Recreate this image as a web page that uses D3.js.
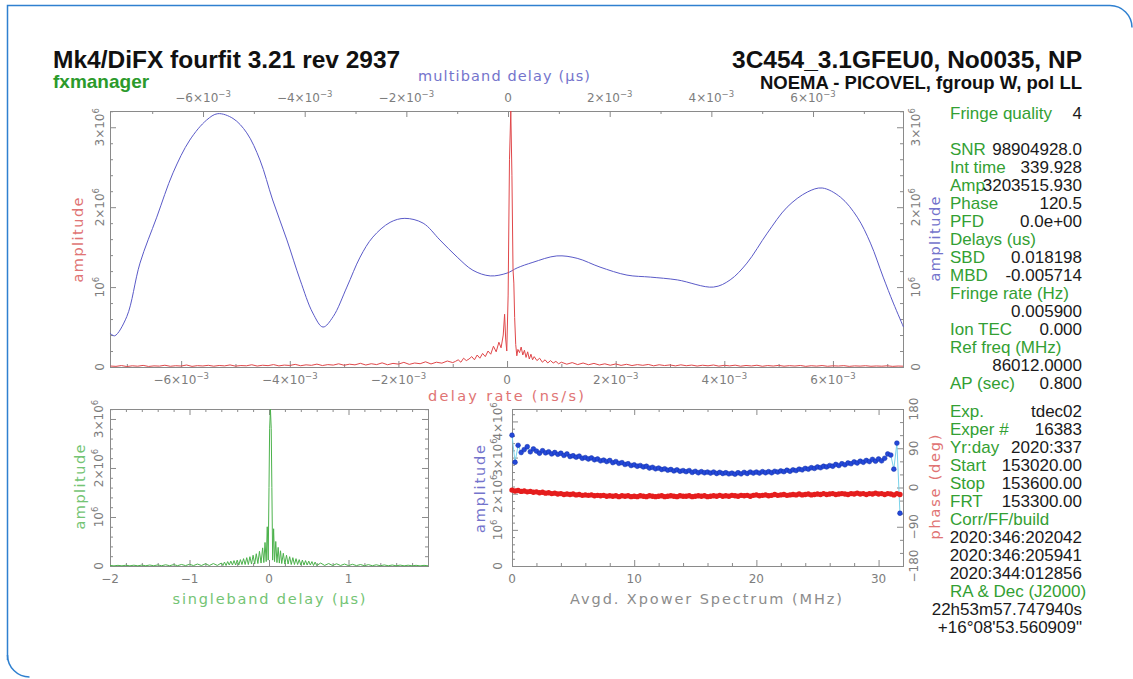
<!DOCTYPE html>
<html>
<head>
<meta charset="utf-8">
<script src="https://cdn.jsdelivr.net/npm/d3@7"></script>
<style>
  html, body { margin: 0; padding: 0; background: #fff; }
  svg { display: block; }
</style>
</head>
<body>
<svg id="chart" width="1133" height="679"></svg>
<script>
// ---------------------------------------------------------------------------
// Fourfit fringe plot: 3C454, NOEMA - PICOVEL
// ---------------------------------------------------------------------------
const AMP = 1e6;       // amplitude unit
const RATE_U = 1e-3;   // delay-rate unit (ns/s)
const MBD_U = 1e-3;    // multiband-delay unit (us)

// Multiband delay search function (delay in 1e-3 us, amplitude in 1e6)
const mbdDelay = [-7.83, -7.74, -7.50, -7.24, -6.91, -6.59, -6.26, -5.93, -5.71, -5.41,
  -5.14, -4.88, -4.63, -4.35, -4.09, -3.84, -3.64, -3.44, -3.17, -2.91,
  -2.66, -2.32, -2.03, -1.67, -1.34, -1.00, -0.69, -0.35, -0.02, 0.18,
  0.49, 0.96, 1.36, 1.81, 2.34, 2.80, 3.33, 4.04, 4.37, 4.70,
  5.10, 5.49, 5.89, 6.18, 6.54, 6.87, 7.13, 7.38, 7.58, 7.78];
const mbdAmp = [0.425, 0.39, 0.63, 1.30, 1.875, 2.43, 2.84, 3.09, 3.17, 3.11,
  2.93, 2.59, 2.09, 1.59, 1.09, 0.675, 0.50, 0.63, 1.00, 1.375,
  1.625, 1.81, 1.86, 1.80, 1.59, 1.375, 1.21, 1.14, 1.175, 1.24,
  1.31, 1.39, 1.36, 1.25, 1.15, 1.125, 1.09, 1.00, 1.09, 1.30,
  1.675, 2.00, 2.19, 2.24, 2.125, 1.875, 1.55, 1.125, 0.80, 0.50];

// Delay-rate function: [rate in 1e-3 ns/s, amplitude in 1e6]
const rateFn = [
  [-7.3,0.012],[-7.2,0.008],[-7.1,0.018],[-7.0,0.006],[-6.9,0.015],[-6.8,0.010],[-6.7,0.020],[-6.6,0.007],
  [-6.5,0.014],[-6.4,0.011],[-6.3,0.022],[-6.2,0.009],[-6.1,0.016],[-6.0,0.012],[-5.9,0.025],[-5.8,0.008],
  [-5.7,0.017],[-5.6,0.013],[-5.5,0.021],[-5.4,0.010],[-5.3,0.019],[-5.2,0.014],[-5.1,0.026],[-5.0,0.011],
  [-4.9,0.018],[-4.8,0.015],[-4.7,0.028],[-4.6,0.012],[-4.5,0.022],[-4.4,0.017],[-4.3,0.030],[-4.2,0.014],
  [-4.1,0.024],[-4.0,0.019],[-3.9,0.033],[-3.8,0.016],[-3.7,0.027],[-3.6,0.021],[-3.5,0.036],[-3.4,0.018],
  [-3.3,0.030],[-3.2,0.024],[-3.1,0.040],[-3.0,0.022],[-2.9,0.035],[-2.8,0.027],[-2.7,0.046],[-2.6,0.025],
  [-2.5,0.041],[-2.4,0.030],[-2.3,0.052],[-2.2,0.028],[-2.1,0.045],[-2.0,0.036],[-1.9,0.058],[-1.8,0.033],
  [-1.7,0.050],[-1.6,0.041],[-1.5,0.065],[-1.4,0.038],[-1.3,0.060],[-1.2,0.048],[-1.1,0.075],[-1.0,0.055],
  [-0.95,0.07],[-0.9,0.09],[-0.85,0.06],[-0.8,0.11],[-0.75,0.08],[-0.7,0.10],[-0.65,0.13],[-0.6,0.09],
  [-0.55,0.15],[-0.5,0.11],[-0.45,0.17],[-0.4,0.13],[-0.35,0.20],[-0.3,0.16],[-0.25,0.26],[-0.2,0.19],
  [-0.15,0.31],[-0.11,0.24],[-0.07,0.40],[-0.045,0.66],[-0.025,0.35],[-0.005,0.20],[0.02,0.9],[0.045,2.6],
  [0.069,3.2035],[0.09,2.4],[0.11,1.22],[0.125,1.05],[0.14,0.62],[0.16,0.28],[0.18,0.14],[0.2,0.22],
  [0.23,0.18],[0.26,0.25],[0.29,0.15],[0.32,0.21],[0.35,0.12],[0.38,0.19],[0.41,0.10],[0.44,0.16],
  [0.47,0.09],[0.5,0.13],[0.55,0.08],[0.6,0.11],[0.65,0.06],[0.7,0.09],[0.75,0.05],[0.8,0.08],
  [0.85,0.05],[0.9,0.07],[0.95,0.04],
  [1.0,0.06],[1.1,0.035],[1.2,0.055],[1.3,0.03],[1.4,0.05],[1.5,0.028],[1.6,0.045],[1.7,0.025],
  [1.8,0.04],[1.9,0.022],[2.0,0.038],[2.1,0.02],[2.2,0.034],[2.3,0.018],[2.4,0.03],[2.5,0.021],
  [2.6,0.032],[2.7,0.015],[2.8,0.028],[2.9,0.018],[3.0,0.026],[3.1,0.014],[3.2,0.027],[3.3,0.016],
  [3.4,0.024],[3.5,0.012],[3.6,0.022],[3.7,0.015],[3.8,0.025],[3.9,0.011],[4.0,0.021],[4.1,0.014],
  [4.2,0.023],[4.3,0.010],[4.4,0.019],[4.5,0.013],[4.6,0.022],[4.7,0.009],[4.8,0.018],[4.9,0.012],
  [5.0,0.020],[5.1,0.010],[5.2,0.017],[5.3,0.012],[5.4,0.019],[5.5,0.008],[5.6,0.016],[5.7,0.011],
  [5.8,0.018],[5.9,0.009],[6.0,0.015],[6.1,0.012],[6.2,0.017],[6.3,0.008],[6.4,0.014],[6.5,0.011],
  [6.6,0.016],[6.7,0.009],[6.8,0.013],[6.9,0.010],[7.0,0.015],[7.1,0.008],[7.2,0.012],[7.29,0.010]
];

// Singleband delay function: [delay in us, amplitude in 1e6]
const sbdFn = [
  [-2.0,0.012],[-1.95,0.003],[-1.9,0.013],[-1.85,0.004],[-1.8,0.015],[-1.75,0.004],[-1.7,0.016],[-1.65,0.004],
  [-1.6,0.018],[-1.55,0.005],[-1.5,0.02],[-1.45,0.005],[-1.4,0.022],[-1.35,0.006],[-1.3,0.025],[-1.25,0.006],
  [-1.2,0.028],[-1.15,0.007],[-1.1,0.031],[-1.05,0.008],[-1.0,0.035],[-0.95,0.008],[-0.9,0.04],[-0.85,0.01],
  [-0.8,0.045],[-0.75,0.01],[-0.7,0.05],[-0.65,0.012],[-0.6,0.06],
  [-0.58,0.01],[-0.56,0.08],[-0.54,0.01],[-0.52,0.09],[-0.50,0.02],[-0.48,0.10],[-0.46,0.02],[-0.44,0.11],
  [-0.42,0.02],[-0.40,0.12],[-0.38,0.02],[-0.36,0.13],[-0.34,0.03],[-0.32,0.15],[-0.30,0.03],[-0.28,0.17],
  [-0.26,0.03],[-0.24,0.19],[-0.22,0.04],[-0.20,0.22],[-0.18,0.04],[-0.16,0.25],[-0.14,0.05],[-0.12,0.30],
  [-0.10,0.06],[-0.08,0.37],[-0.065,0.07],[-0.05,0.48],[-0.035,0.09],[-0.022,0.80],[-0.01,0.12],
  [0.0,1.6],[0.008,2.8],[0.018,3.2035],[0.028,2.8],[0.036,1.6],[0.046,0.12],
  [0.058,0.76],[0.07,0.09],[0.085,0.50],[0.10,0.07],[0.115,0.38],[0.13,0.06],[0.145,0.31],[0.16,0.05],
  [0.18,0.26],[0.20,0.04],[0.22,0.22],[0.24,0.04],[0.26,0.19],[0.28,0.03],[0.30,0.17],[0.32,0.03],
  [0.34,0.15],[0.36,0.03],[0.38,0.13],[0.40,0.02],[0.42,0.12],[0.44,0.02],[0.46,0.11],[0.48,0.02],
  [0.50,0.10],[0.52,0.02],[0.54,0.09],[0.56,0.01],[0.58,0.08],[0.60,0.01],
  [0.65,0.06],[0.7,0.012],[0.75,0.05],[0.8,0.01],[0.85,0.045],[0.9,0.01],[0.95,0.04],[1.0,0.008],
  [1.05,0.035],[1.1,0.008],[1.15,0.03],[1.2,0.006],[1.25,0.028],[1.3,0.006],[1.35,0.025],[1.4,0.005],
  [1.45,0.022],[1.5,0.005],[1.55,0.02],[1.6,0.004],[1.65,0.018],[1.7,0.004],[1.75,0.016],[1.8,0.004],
  [1.85,0.014],[1.9,0.003],[1.95,0.013],[2.0,0.005]
];

// Averaged cross-power spectrum, 0.25 MHz bins starting at 0 MHz
const specStep = 0.25;
const specAmp = [3.62, 2.87, 3.34, 3.14, 3.22, 3.30, 3.16, 3.24, 3.18, 3.12,
  3.19, 3.13, 3.16, 3.10, 3.14, 3.09, 3.12, 3.06, 3.10, 3.03,
  3.05, 3.01, 3.04, 2.98, 3.00, 2.96, 2.99, 2.94, 2.96, 2.91,
  2.93, 2.89, 2.92, 2.86, 2.89, 2.84, 2.86, 2.81, 2.83, 2.78,
  2.80, 2.76, 2.78, 2.74, 2.76, 2.71, 2.73, 2.69, 2.71, 2.67,
  2.69, 2.65, 2.67, 2.63, 2.66, 2.62, 2.64, 2.61, 2.64, 2.59,
  2.62, 2.58, 2.61, 2.58, 2.60, 2.57, 2.60, 2.56, 2.59, 2.56,
  2.58, 2.55, 2.57, 2.54, 2.58, 2.55, 2.59, 2.56, 2.60, 2.57,
  2.60, 2.57, 2.61, 2.58, 2.61, 2.58, 2.62, 2.60, 2.63, 2.61,
  2.65, 2.62, 2.66, 2.64, 2.68, 2.66, 2.70, 2.68, 2.72, 2.70,
  2.74, 2.72, 2.76, 2.74, 2.78, 2.76, 2.81, 2.78, 2.83, 2.80,
  2.85, 2.83, 2.88, 2.85, 2.90, 2.87, 2.92, 2.89, 2.95, 2.90,
  2.96, 2.91, 2.98, 3.10, 3.07, 2.68, 3.40, 1.46];
const specPhase = [-6, -8, -7, -9, -8, -10, -9, -11, -10, -12,
  -11, -13, -12, -14, -13, -15, -14, -16, -15, -16,
  -15, -17, -16, -18, -17, -18, -17, -19, -18, -19,
  -18, -20, -19, -20, -19, -21, -19, -20, -19, -21,
  -20, -21, -19, -20, -21, -19, -20, -21, -20, -19,
  -21, -20, -19, -20, -21, -19, -20, -20, -19, -21,
  -20, -19, -20, -19, -21, -20, -19, -20, -18, -20,
  -19, -20, -18, -19, -20, -18, -19, -18, -20, -18,
  -17, -19, -18, -17, -19, -18, -16, -18, -17, -16,
  -18, -17, -16, -17, -15, -17, -16, -15, -17, -16,
  -15, -16, -14, -16, -15, -14, -16, -15, -14, -15,
  -16, -14, -15, -13, -15, -14, -16, -14, -15, -13,
  -15, -14, -16, -14, -15, -17, -14, -16];

// Axis tick values
const rateTicks = [-6, -4, -2, 0, 2, 4, 6];       // x 1e-3 ns/s
const mbdTicks = [-6, -4, -2, 0, 2, 4, 6];        // x 1e-3 us
const ampTicks = [0, 1, 2, 3];                    // x 1e6
const sbdTicks = [-2, -1, 0, 1];                  // us
const freqTicks = [0, 10, 20, 30];                // MHz
const specAmpTicks = [0, 1, 2, 3, 4];             // x 1e6
const phaseTicks = [-180, -90, 0, 90, 180];       // deg

// Header and fit summary text
const titleLeft = "Mk4/DiFX fourfit 3.21 rev 2937";
const subLeft = "fxmanager";
const titleRight = "3C454_3.1GFEU0, No0035, NP";
const subRight = "NOEMA - PICOVEL, fgroup W, pol LL";

const infoHead = [["Fringe quality", "4"]];
const infoFit = [["SNR", "98904928.0"], ["Int time", "339.928"], ["Amp", "3203515.930"],
  ["Phase", "120.5"], ["PFD", "0.0e+00"], ["Delays (us)", ""], ["SBD", "0.018198"],
  ["MBD", "-0.005714"], ["Fringe rate (Hz)", ""], ["", "0.005900"], ["Ion TEC", "0.000"],
  ["Ref freq (MHz)", ""], ["", "86012.0000"], ["AP (sec)", "0.800"]];
const infoRun = [["Exp.", "tdec02"], ["Exper #", "16383"], ["Yr:day", "2020:337"],
  ["Start", "153020.00"], ["Stop", "153600.00"], ["FRT", "153300.00"], ["Corr/FF/build", ""],
  ["", "2020:346:202042"], ["", "2020:346:205941"], ["", "2020:344:012856"],
  ["RA & Dec (J2000)", ""], ["", "22h53m57.747940s"], ["", "+16\u00b008'53.560909\""]];

// ---------------------------------------------------------------------------
const svg = d3.select("#chart");
const FRAME = "#8a8a8a";
const TICKTXT = "#7d7d7d";
const LBLFONT = "'DejaVu Sans', sans-serif";
const TXTFONT = "'Liberation Sans', Arial, sans-serif";
const RED = "#e0474a", BLUE = "#5a5ac8", GREEN = "#4cb24c";

// card outline
svg.append("path")
  .attr("d", "M7.5,660 V5.5 H1110 A22,22 0 0 1 1132,27.5")
  .attr("fill", "none").attr("stroke", "#2f80d0").attr("stroke-width", 1.5);
svg.append("path")
  .attr("d", "M7.5,655 A22,22 0 0 0 29.5,677")
  .attr("fill", "none").attr("stroke", "#2f80d0").attr("stroke-width", 1.5);

// plot boxes
const topBox = { x0: 110, x1: 903, y0: 111, y1: 367 };
const sbdBox = { x0: 110, x1: 428, y0: 409, y1: 566 };
const specBox = { x0: 512, x1: 903, y0: 409, y1: 566 };

function frame(box) {
  svg.append("rect").attr("x", box.x0 + 0.5).attr("y", box.y0 + 0.5)
    .attr("width", box.x1 - box.x0).attr("height", box.y1 - box.y0)
    .attr("fill", "none").attr("stroke", FRAME).attr("stroke-width", 1);
}

function edgeTicks(scale, side, box, major, minor) {
  const mk = { bottom: d3.axisBottom, top: d3.axisTop, left: d3.axisLeft, right: d3.axisRight }[side];
  const pos = { bottom: [0, box.y1], top: [0, box.y0], left: [box.x0, 0], right: [box.x1, 0] }[side];
  [[major, 6], [minor, 3]].forEach(([vals, len]) => {
    const g = svg.append("g").attr("transform", `translate(${pos[0]},${pos[1]})`)
      .call(mk(scale).tickValues(vals).tickSize(-len).tickFormat(""));
    g.select(".domain").remove();
    g.selectAll("text").remove();
    g.selectAll("line").attr("stroke", FRAME);
  });
}

// text with an optional superscript tail
function sciText(parent, x, y, base, sup, opts = {}) {
  const t = parent.append("text")
    .attr("text-anchor", "middle")
    .attr("font-family", LBLFONT)
    .attr("font-size", opts.size || 12)
    .attr("fill", opts.fill || TICKTXT);
  if (opts.rotate) t.attr("transform", `translate(${x},${y}) rotate(-90)`);
  else t.attr("x", x).attr("y", y);
  t.append("tspan").text(base);
  if (sup) t.append("tspan").attr("dy", -5).attr("font-size", 8.5).text(sup);
  return t;
}

function powParts(v, exp) {
  if (v === 0) return ["0", null];
  const m = Math.abs(v);
  return [(v < 0 ? "\u2212" : "") + (m === 1 ? "" : m + "\u00d7") + "10", exp];
}

function axisTitle(x, y, text, color, len, rotate) {
  const t = svg.append("text")
    .attr("text-anchor", "middle")
    .attr("font-family", LBLFONT).attr("font-size", 14.5)
    .attr("fill", color)
    .attr("textLength", len).attr("lengthAdjust", "spacing")
    .text(text);
  if (rotate) t.attr("transform", `translate(${x},${y}) rotate(-90)`);
  else t.attr("x", x).attr("y", y);
}

function minorRange(a, b, step, major) {
  return d3.range(a, b + step / 2, step)
    .map(v => +v.toFixed(6))
    .filter(v => !major.some(m => Math.abs(m - v) < 1e-9));
}

// ---------------------------------------------------------------------------
// Top panel: delay-rate (red, bottom axis) and multiband delay (blue, top axis)
const xRate = d3.scaleLinear().domain([-7.31 * RATE_U, 7.29 * RATE_U]).range([topBox.x0, topBox.x1]);
const xMbd = d3.scaleLinear().domain([-7.83 * MBD_U, 7.77 * MBD_U]).range([topBox.x0, topBox.x1]);
const yTop = d3.scaleLinear().domain([0, 3.2035 * AMP]).range([topBox.y1, topBox.y0]);

frame(topBox);
edgeTicks(xRate, "bottom", topBox, rateTicks.map(v => v * RATE_U),
  minorRange(-7, 7, 1, rateTicks).map(v => v * RATE_U));
edgeTicks(xMbd, "top", topBox, mbdTicks.map(v => v * MBD_U),
  minorRange(-7, 7, 1, mbdTicks).map(v => v * MBD_U));
const ampMinor = minorRange(0, 3.2, 0.2, ampTicks).map(v => v * AMP);
edgeTicks(yTop, "left", topBox, ampTicks.map(v => v * AMP), ampMinor);
edgeTicks(yTop, "right", topBox, ampTicks.map(v => v * AMP), ampMinor);

const mbdPts = mbdDelay.map((d, i) => [d * MBD_U, mbdAmp[i] * AMP]);
svg.append("path").datum(mbdPts)
  .attr("d", d3.line().x(d => xMbd(d[0])).y(d => yTop(d[1])).curve(d3.curveCatmullRom.alpha(0.5)))
  .attr("fill", "none").attr("stroke", BLUE).attr("stroke-width", 1);
svg.append("path").datum(rateFn)
  .attr("d", d3.line().x(d => xRate(d[0] * RATE_U)).y(d => yTop(d[1] * AMP)))
  .attr("fill", "none").attr("stroke", RED).attr("stroke-width", 1);

rateTicks.forEach(v => {
  const [b, s] = powParts(v, "\u22123");
  sciText(svg, xRate(v * RATE_U), 384, b, s);
});
mbdTicks.forEach(v => {
  const [b, s] = powParts(v, "\u22123");
  sciText(svg, xMbd(v * MBD_U), 102, b, s);
});
ampTicks.forEach(v => {
  const [b, s] = powParts(v, "6");
  sciText(svg, 104, yTop(v * AMP), b, s, { rotate: true });
  sciText(svg, 920, yTop(v * AMP), b, s, { rotate: true });
});
axisTitle(504, 81, "multiband delay (\u00b5s)", "#7474cc", 172);
axisTitle(506, 401, "delay rate (ns/s)", "#e07474", 156);
axisTitle(83, 240, "amplitude", "#e07474", 85, true);
axisTitle(940, 239, "amplitude", "#7474cc", 85, true);

// ---------------------------------------------------------------------------
// Bottom-left panel: singleband delay
const xSbd = d3.scaleLinear().domain([-2, 2]).range([sbdBox.x0, sbdBox.x1]);
const ySbd = d3.scaleLinear().domain([0, 3.2035 * AMP]).range([sbdBox.y1, sbdBox.y0]);
frame(sbdBox);
const sbdMinor = minorRange(-2, 2, 0.2, sbdTicks.concat([2]));
edgeTicks(xSbd, "bottom", sbdBox, sbdTicks, sbdMinor);
edgeTicks(xSbd, "top", sbdBox, sbdTicks, sbdMinor);
edgeTicks(ySbd, "left", sbdBox, ampTicks.map(v => v * AMP), ampMinor);
edgeTicks(ySbd, "right", sbdBox, ampTicks.map(v => v * AMP), ampMinor);
svg.append("path").datum(sbdFn)
  .attr("d", d3.line().x(d => xSbd(d[0])).y(d => ySbd(d[1] * AMP)))
  .attr("fill", "none").attr("stroke", GREEN).attr("stroke-width", 1);
sbdTicks.forEach(v => sciText(svg, xSbd(v), 583, (v < 0 ? "\u2212" : "") + Math.abs(v), null));
ampTicks.forEach(v => {
  const [b, s] = powParts(v, "6");
  sciText(svg, 103, ySbd(v * AMP), b, s, { rotate: true });
});
axisTitle(269, 604, "singleband delay (\u00b5s)", "#74c474", 193);
axisTitle(85, 487, "amplitude", "#74c474", 85, true);

// ---------------------------------------------------------------------------
// Bottom-right panel: averaged cross-power spectrum
const xFreq = d3.scaleLinear().domain([0, 32]).range([specBox.x0, specBox.x1]);
const ySpec = d3.scaleLinear().domain([0, 4.344 * AMP]).range([specBox.y1, specBox.y0]);
const yPhase = d3.scaleLinear().domain([-180, 180]).range([specBox.y1, specBox.y0]);
frame(specBox);
const freqMinor = minorRange(0, 32, 2, freqTicks);
edgeTicks(xFreq, "bottom", specBox, freqTicks, freqMinor);
edgeTicks(xFreq, "top", specBox, freqTicks, freqMinor);
edgeTicks(ySpec, "left", specBox, specAmpTicks.map(v => v * AMP),
  minorRange(0, 4.2, 0.2, specAmpTicks).map(v => v * AMP));
edgeTicks(yPhase, "right", specBox, phaseTicks, minorRange(-180, 180, 30, phaseTicks));

const specPts = specAmp.map((a, i) => ({ f: i * specStep, a: a * AMP, p: specPhase[i] }));
svg.append("path").datum(specPts)
  .attr("d", d3.line().x(d => xFreq(d.f)).y(d => ySpec(d.a)))
  .attr("fill", "none").attr("stroke", "#79d3ea").attr("stroke-width", 1);
svg.append("g").selectAll("circle.ph").data(specPts).join("circle")
  .attr("cx", d => xFreq(d.f)).attr("cy", d => yPhase(d.p)).attr("r", 2.7)
  .attr("fill", "#e51d1d");
svg.append("g").selectAll("circle.am").data(specPts).join("circle")
  .attr("cx", d => xFreq(d.f)).attr("cy", d => ySpec(d.a)).attr("r", 2.4)
  .attr("fill", "#2448d8").attr("stroke", "#1330a8").attr("stroke-width", 0.5);

freqTicks.forEach(v => sciText(svg, xFreq(v), 583, String(v), null));
specAmpTicks.forEach(v => {
  const [b, s] = powParts(v, "6");
  sciText(svg, 502, ySpec(v * AMP), b, s, { rotate: true });
});
phaseTicks.forEach(v => sciText(svg, 918, yPhase(v), (v < 0 ? "\u2212" : "") + Math.abs(v), null, { rotate: true }));
axisTitle(706, 604, "Avgd. Xpower Spectrum (MHz)", "#8c8c8c", 272);
axisTitle(485, 489, "amplitude", "#7474cc", 88, true);
axisTitle(940, 487, "phase (deg)", "#e07474", 105, true);

// ---------------------------------------------------------------------------
// Header
svg.append("text").attr("x", 53).attr("y", 68).attr("font-family", TXTFONT)
  .attr("font-weight", "bold").attr("font-size", 24.5).attr("fill", "#111").text(titleLeft);
svg.append("text").attr("x", 53).attr("y", 88).attr("font-family", TXTFONT)
  .attr("font-weight", "bold").attr("font-size", 19).attr("fill", "#2b9a2b").text(subLeft);
svg.append("text").attr("x", 1082).attr("y", 68).attr("text-anchor", "end").attr("font-family", TXTFONT)
  .attr("font-weight", "bold").attr("font-size", 24.5).attr("fill", "#111").text(titleRight);
svg.append("text").attr("x", 1082).attr("y", 89).attr("text-anchor", "end").attr("font-family", TXTFONT)
  .attr("font-weight", "bold").attr("font-size", 18.5).attr("fill", "#111").text(subRight);

// Fit summary column
function infoBlock(rows, y0) {
  rows.forEach(([lab, val], i) => {
    const y = y0 + i * 18;
    if (lab) svg.append("text").attr("x", 950).attr("y", y).attr("font-family", TXTFONT)
      .attr("font-size", 17).attr("fill", "#33a033").text(lab);
    if (val) svg.append("text").attr("x", 1082).attr("y", y).attr("text-anchor", "end")
      .attr("font-family", TXTFONT).attr("font-size", 17).attr("fill", "#1a1a1a").text(val);
  });
}
infoBlock(infoHead, 119);
infoBlock(infoFit, 155);
infoBlock(infoRun, 417);
</script>
</body>
</html>
